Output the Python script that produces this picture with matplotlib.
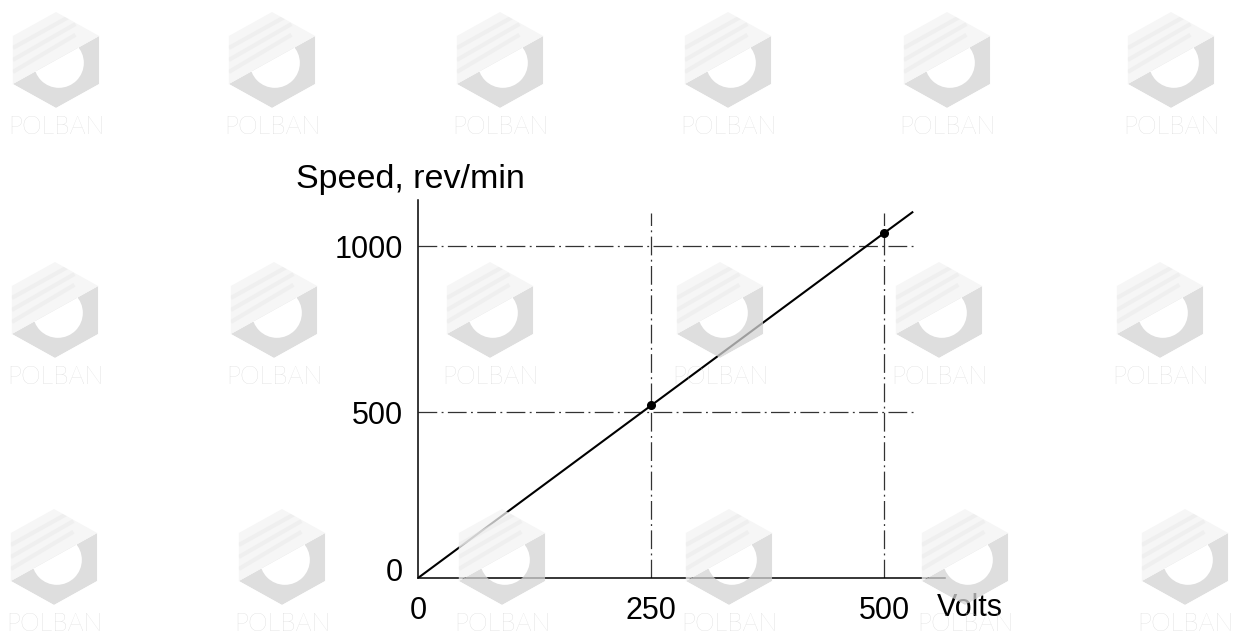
import numpy as np
import matplotlib
matplotlib.use("Agg")
import matplotlib.pyplot as plt
from matplotlib.path import Path
from matplotlib.patches import PathPatch, Polygon
from matplotlib.transforms import ScaledTranslation

plt.rcParams['font.family'] = ['Liberation Sans', 'DejaVu Sans']

# data
volts = [0, 250, 500, 530]
speed = [0, 520, 1040, 1102]
marked_volts = [250, 500]
marked_speed = [520, 1040]
ref_speeds = [500, 1000]
ref_volts = [250, 500]
x_ticks = [0, 250, 500]
y_ticks = [0, 500, 1000]

# watermark grid (pixel centres of the POLBAN logos)
wm_rows_y = [60, 310, 557]
wm_cols_x = [
    [56, 272, 500, 728, 947, 1171],
    [55, 274, 490, 720, 939, 1160],
    [54, 282, 502, 729, 965, 1185],
]
wm_text = "POLBAN"

W, H = 1233, 635
fig = plt.figure(figsize=(W / 100, H / 100), dpi=100)

# main axes: origin at (418, 578) px
x0, y0, x1, y1 = 418, 578, 945, 200
ax = fig.add_axes([x0 / W, 1 - y0 / H, (x1 - x0) / W, (y0 - y1) / H])
ax.set_xlim(0, 565)
ax.set_ylim(0, 1139)
for s in ['top', 'right']:
    ax.spines[s].set_visible(False)
for s in ['left', 'bottom']:
    ax.spines[s].set_linewidth(1.1)

dash = dict(color='#333333', lw=0.9, dashes=[15, 3.5, 1.5, 3.5])
for v in ref_speeds:
    ax.plot([0, 535], [v, v], **dash)
for v in ref_volts:
    ax.plot([v, v], [0, 1100], **dash)

ax.plot(volts, speed, color='black', lw=1.5)
ax.plot(marked_volts, marked_speed, 'o', color='black', ms=5.5)

ax.set_xticks(x_ticks)
ax.set_yticks(y_ticks)
ax.set_xticklabels([str(t) for t in x_ticks])
ax.set_yticklabels([str(t) for t in y_ticks])
ax.tick_params(axis='x', length=0, pad=13, labelsize=22)
ax.tick_params(axis='y', length=0, pad=11, labelsize=22)
ylab0 = ax.get_yticklabels()[0]
ylab0.set_transform(ylab0.get_transform() + ScaledTranslation(0, 6 / 72, fig.dpi_scale_trans))

fig.text(296 / W, 1 - 180 / H, "Speed, rev/min", fontsize=24.5, ha='left', va='center')
fig.text(937 / W, 1 - 608 / H, "Volts", fontsize=22, ha='left', va='center')

# watermark overlay
wm = fig.add_axes([0, 0, 1, 1], zorder=10)
wm.set_xlim(0, W)
wm.set_ylim(H, 0)
wm.axis('off')
wm.patch.set_alpha(0)

r = 48
hw = 0.9 * r
for row_y, cols in zip(wm_rows_y, wm_cols_x):
    for cx in cols:
        cy = row_y
        light = [(cx + hw, cy - 0.5 * r), (cx, cy - r), (cx - hw, cy - 0.5 * r), (cx - hw, cy + 0.5 * r)]
        lp = Polygon(light, closed=True, facecolor='#f3f3f3', edgecolor='none', alpha=0.75)
        wm.add_patch(lp)
        # faint stripes in the light half
        for off in [0.25, 0.5, 0.75]:
            sx = [cx - hw, cx + hw * 0.45]
            sy = [cy + 0.5 * r - off * r, cy - 0.5 * r - off * r * 0.9 + 0.2 * r]
            st, = wm.plot(sx, sy, color='#e9e9e9', lw=3, alpha=0.5, solid_capstyle='butt')
            st.set_clip_path(lp)
        quad = [(cx - hw, cy + 0.5 * r), (cx, cy + r), (cx + hw, cy + 0.5 * r), (cx + hw, cy - 0.5 * r)]
        quad_path = Path(quad + [quad[0]], [Path.MOVETO] + [Path.LINETO] * 3 + [Path.CLOSEPOLY])
        hole = Path.circle((cx + 0.06 * r, cy + 0.06 * r), 0.52 * r)
        dark = Path.make_compound_path(quad_path, hole)
        dp = PathPatch(dark, facecolor='#d3d3d3', edgecolor='none', alpha=0.75)
        wm.add_patch(dp)
        clip = Polygon(quad, closed=True, transform=wm.transData)
        dp.set_clip_path(clip)
        wm.text(cx, cy + 67, wm_text, fontsize=18, family=['Lato', 'DejaVu Sans'], fontweight='light',
                color='#c6c6c6', alpha=0.85, ha='center', va='center')

fig.savefig("out.png", dpi=100)
